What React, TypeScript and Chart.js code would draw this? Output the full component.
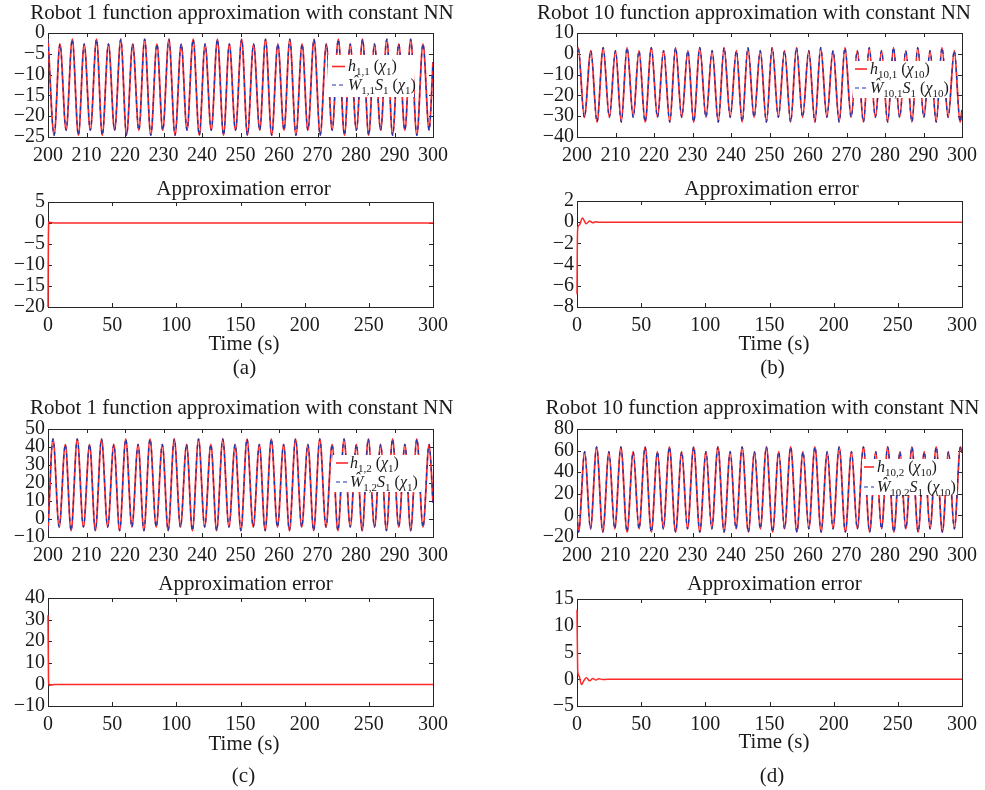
import React, { useEffect, useRef } from "react";
import { Chart, registerables } from "chart.js";

Chart.register(...registerables);

// ---------------- data ----------------
const X_TICKS_ZOOM = [200, 210, 220, 230, 240, 250, 260, 270, 280, 290, 300];
const X_TICKS_FULL = [0, 50, 100, 150, 200, 250, 300];

const Y_TICKS_A_TOP = [-25, -20, -15, -10, -5, 0];
const Y_TICKS_A_ERR = [-20, -15, -10, -5, 0, 5];
const Y_TICKS_B_TOP = [-40, -30, -20, -10, 0, 10];
const Y_TICKS_B_ERR = [-8, -6, -4, -2, 0, 2];
const Y_TICKS_C_TOP = [-10, 0, 10, 20, 30, 40, 50];
const Y_TICKS_C_ERR = [-10, 0, 10, 20, 30, 40];
const Y_TICKS_D_TOP = [-20, 0, 20, 40, 60, 80];
const Y_TICKS_D_ERR = [-5, 0, 5, 10, 15];

// Robot 1, output 1 (extrema of the oscillation, 200-300 s)
const T_A = [
  200.0, 201.6, 203.1, 204.7, 206.3, 207.9, 209.4, 211.0, 212.6, 214.1, 215.7, 217.3,
  218.9, 220.4, 222.0, 223.6, 225.1, 226.7, 228.3, 229.8, 231.4, 233.0, 234.6, 236.1,
  237.7, 239.3, 240.8, 242.4, 244.0, 245.6, 247.1, 248.7, 250.3, 251.8, 253.4, 255.0,
  256.5, 258.1, 259.7, 261.3, 262.8, 264.4, 266.0, 267.5, 269.1, 270.7, 272.3, 273.8,
  275.4, 277.0, 278.5, 280.1, 281.7, 283.3, 284.8, 286.4, 288.0, 289.5, 291.1, 292.7,
  294.2, 295.8, 297.4, 299.0, 300.0,
];
const H_1_1 = [
  -1.5, -24.6, -2.6, -23.4, -1.5, -24.6, -2.6, -23.4, -1.5, -24.6, -2.6, -23.4,
  -1.5, -24.6, -2.6, -23.4, -1.5, -24.6, -2.6, -23.4, -1.5, -24.6, -2.6, -23.4,
  -1.5, -24.6, -2.6, -23.4, -1.5, -24.6, -2.6, -23.4, -1.5, -24.6, -2.6, -23.4,
  -1.5, -24.6, -2.6, -23.4, -1.5, -24.6, -2.6, -23.4, -1.5, -24.6, -2.6, -23.4,
  -1.5, -24.6, -2.6, -23.4, -1.5, -24.6, -2.6, -23.4, -1.5, -24.6, -2.6, -23.4,
  -1.5, -24.6, -2.6, -23.4, -7.0,
];
const WS_1_1 = H_1_1;

// Robot 10, output 1
const T_B = [
  200.0, 200.3, 201.9, 203.6, 205.2, 206.8, 208.4, 210.0, 211.5, 213.0, 214.6, 216.1,
  217.7, 219.3, 220.9, 222.5, 224.1, 225.6, 227.2, 228.8, 230.3, 231.9, 233.5, 235.1,
  236.7, 238.2, 239.8, 241.4, 242.9, 244.4, 246.0, 247.6, 249.2, 250.7, 252.3, 253.9,
  255.5, 257.0, 258.6, 260.2, 261.8, 263.3, 264.9, 266.5, 268.1, 269.6, 271.2, 272.8,
  274.4, 275.9, 277.5, 279.1, 280.7, 282.2, 283.8, 285.4, 287.0, 288.5, 290.1, 291.7,
  293.3, 294.8, 296.4, 298.0, 299.5, 300.0,
];
const H_10_1 = [
  0.0,
  3.0, -30.5, 1.5, -32.8, 3.0, -30.5, 1.5, -32.8, 3.0, -30.5, 1.5, -32.8,
  3.0, -30.5, 1.5, -32.8, 3.0, -30.5, 1.5, -32.8, 3.0, -30.5, 1.5, -32.8,
  3.0, -30.5, 1.5, -32.8, 3.0, -30.5, 1.5, -32.8, 3.0, -30.5, 1.5, -32.8,
  3.0, -30.5, 1.5, -32.8, 3.0, -30.5, 1.5, -32.8, 3.0, -30.5, 1.5, -32.8,
  3.0, -30.5, 1.5, -32.8, 3.0, -30.5, 1.5, -32.8, 3.0, -30.5, 1.5, -32.8,
  3.0, -30.5, 1.5, -32.8,
  -27.0,
];
const WS_10_1 = H_10_1;

// Robot 1, output 2
const T_C = [
  200.0, 201.3, 202.9, 204.5, 206.0, 207.6, 209.2, 210.8, 212.3, 213.9, 215.5, 217.1,
  218.6, 220.2, 221.8, 223.4, 224.9, 226.5, 228.1, 229.7, 231.2, 232.8, 234.4, 236.0,
  237.5, 239.1, 240.7, 242.3, 243.8, 245.4, 247.0, 248.6, 250.1, 251.7, 253.3, 254.9,
  256.4, 258.0, 259.6, 261.2, 262.7, 264.3, 265.9, 267.5, 269.0, 270.6, 272.2, 273.8,
  275.3, 276.9, 278.5, 280.1, 281.6, 283.2, 284.8, 286.4, 287.9, 289.5, 291.1, 292.7,
  294.2, 295.8, 297.4, 299.0, 300.0,
];
const H_1_2 = [
  -6.0,
  44.5, -4.5, 41.5, -6.5, 44.5, -4.5, 41.5, -6.5, 44.5, -4.5, 41.5, -6.5,
  44.5, -4.5, 41.5, -6.5, 44.5, -4.5, 41.5, -6.5, 44.5, -4.5, 41.5, -6.5,
  44.5, -4.5, 41.5, -6.5, 44.5, -4.5, 41.5, -6.5, 44.5, -4.5, 41.5, -6.5,
  44.5, -4.5, 41.5, -6.5, 44.5, -4.5, 41.5, -6.5, 44.5, -4.5, 41.5, -6.5,
  44.5, -4.5, 41.5, -6.5, 44.5, -4.5, 41.5, -6.5, 44.5, -4.5, 41.5, -6.5,
  44.5, -4.5, 41.5,
  9.0,
];
const WS_1_2 = H_1_2;

// Robot 10, output 2
const T_D = [
  200.0, 200.4, 202.0, 203.5, 205.1, 206.7, 208.3, 209.8, 211.4, 213.0, 214.6, 216.1,
  217.7, 219.3, 220.9, 222.4, 224.0, 225.6, 227.2, 228.7, 230.3, 231.9, 233.5, 235.0,
  236.6, 238.2, 239.8, 241.3, 242.9, 244.5, 246.1, 247.6, 249.2, 250.8, 252.4, 253.9,
  255.5, 257.1, 258.7, 260.2, 261.8, 263.4, 265.0, 266.5, 268.1, 269.7, 271.3, 272.8,
  274.4, 276.0, 277.6, 279.1, 280.7, 282.3, 283.9, 285.4, 287.0, 288.6, 290.2, 291.7,
  293.3, 294.9, 296.5, 298.0, 299.6, 300.0,
];
const H_10_2 = [
  1.0,
  -15.5, 59.0, -12.5, 63.5, -15.5, 59.0, -12.5, 63.5, -15.5, 59.0, -12.5, 63.5,
  -15.5, 59.0, -12.5, 63.5, -15.5, 59.0, -12.5, 63.5, -15.5, 59.0, -12.5, 63.5,
  -15.5, 59.0, -12.5, 63.5, -15.5, 59.0, -12.5, 63.5, -15.5, 59.0, -12.5, 63.5,
  -15.5, 59.0, -12.5, 63.5, -15.5, 59.0, -12.5, 63.5, -15.5, 59.0, -12.5, 63.5,
  -15.5, 59.0, -12.5, 63.5, -15.5, 59.0, -12.5, 63.5, -15.5, 59.0, -12.5, 63.5,
  -15.5, 59.0, -12.5, 63.5,
  58.0,
];
const WS_10_2 = H_10_2;

// Approximation errors (0-300 s)
const ERR_A_T = [0, 0.3, 0.7, 1.2, 2.5, 5, 10, 300];
const ERR_A_V = [-20, -3, 0.3, 0.2, 0.1, 0.02, 0, 0];
const ERR_B_T = [0, 0.3, 0.8, 2.0, 4.2, 7.2, 9.8, 12.3, 14.7, 17, 22, 300];
const ERR_B_V = [-6.8, -1.5, -0.4, -0.25, 0.4, -0.15, 0.12, -0.06, 0.05, 0, 0, 0];
const ERR_C_T = [0, 0.4, 0.9, 2.0, 5, 300];
const ERR_C_V = [32, 2, -0.5, -0.3, 0, 0];
const ERR_D_T = [0, 0.5, 1.0, 1.8, 3.5, 5.5, 7.3, 9.8, 12.3, 14.7, 17, 20, 24, 300];
const ERR_D_V = [13, 2, 0.9, 0.5, -1.0, -0.2, 0.3, -0.3, 0.15, -0.15, 0.1, -0.05, 0, 0];

// ---------------- styling / layout ----------------
const W = 985;
const H = 790;
const FONT = '"Liberation Serif", "Times New Roman", Times, serif';
const TEXT = "#1a1a1a";
const AXIS = "#262626";
const RED = "rgb(255,40,40)";
const BLUE = "rgb(25,55,175)";
const YW = 50; // fixed y-axis box width
const XH = 32; // fixed x-axis box height

type Series = { t: number[]; v: number[]; color: string; width: number; dash?: number[]; clip?: number };
type Legend = {
  box: [number, number, number, number];
  sx: [number, number];
  tx: number;
  rows: [number, number];
  hSub: string;
  chiSub: string;
};
type Label = { text: string; x: number; y: number; size: number };
type Panel = {
  plot: [number, number, number, number];
  xr: [number, number];
  xt: number[];
  yr: [number, number];
  yt: number[];
  series: Series[];
  labels: Label[];
  legend?: Legend;
};

const TITLE1 = "Robot 1 function approximation with constant NN";
const TITLE10 = "Robot 10 function approximation with constant NN";
const ERRT = "Approximation error";

// Chart.js draws dataset 0 on top, so the dashed estimate comes first.
const topSeries = (t: number[], h: number[], w: number[]): Series[] => [
  { t, v: w, color: BLUE, width: 1.3, dash: [4, 4] },
  { t, v: h, color: RED, width: 1.8 },
];
const errSeries = (t: number[], v: number[]): Series[] => [
  { t, v, color: RED, width: 1.5, clip: 2 },
];

const PANELS: Panel[] = [
  {
    plot: [48, 33, 433, 137], xr: [200, 300], xt: X_TICKS_ZOOM, yr: [-25, 0], yt: Y_TICKS_A_TOP,
    series: topSeries(T_A, H_1_1, WS_1_1),
    labels: [{ text: TITLE1, x: 242, y: 19, size: 21 }],
    legend: { box: [328, 55, 414, 97], sx: [332, 345], tx: 348, rows: [66.5, 85], hSub: "1,1", chiSub: "1" },
  },
  {
    plot: [48, 202, 433, 307], xr: [0, 300], xt: X_TICKS_FULL, yr: [-20, 5], yt: Y_TICKS_A_ERR,
    series: errSeries(ERR_A_T, ERR_A_V),
    labels: [
      { text: ERRT, x: 243.5, y: 195, size: 21 },
      { text: "Time (s)", x: 244, y: 350, size: 21 },
      { text: "(a)", x: 244.5, y: 374, size: 21 },
    ],
  },
  {
    plot: [577, 33, 962, 137], xr: [200, 300], xt: X_TICKS_ZOOM, yr: [-40, 10], yt: Y_TICKS_B_TOP,
    series: topSeries(T_B, H_10_1, WS_10_1),
    labels: [{ text: TITLE10, x: 754, y: 19, size: 21 }],
    legend: { box: [853, 61, 948, 98], sx: [855, 867], tx: 870, rows: [69, 88], hSub: "10,1", chiSub: "10" },
  },
  {
    plot: [577, 201, 962, 307], xr: [0, 300], xt: X_TICKS_FULL, yr: [-8, 2], yt: Y_TICKS_B_ERR,
    series: errSeries(ERR_B_T, ERR_B_V),
    labels: [
      { text: ERRT, x: 771.5, y: 195, size: 21 },
      { text: "Time (s)", x: 774, y: 350, size: 21 },
      { text: "(b)", x: 772.5, y: 374, size: 21 },
    ],
  },
  {
    plot: [48, 429, 433, 537], xr: [200, 300], xt: X_TICKS_ZOOM, yr: [-10, 50], yt: Y_TICKS_C_TOP,
    series: topSeries(T_C, H_1_2, WS_1_2),
    labels: [{ text: TITLE1, x: 241.7, y: 414, size: 21 }],
    legend: { box: [333, 455, 421, 492], sx: [336, 348], tx: 350, rows: [463, 482], hSub: "1,2", chiSub: "1" },
  },
  {
    plot: [48, 598, 433, 706], xr: [0, 300], xt: X_TICKS_FULL, yr: [-10, 40], yt: Y_TICKS_C_ERR,
    series: errSeries(ERR_C_T, ERR_C_V),
    labels: [
      { text: ERRT, x: 245.5, y: 590, size: 21 },
      { text: "Time (s)", x: 244, y: 750, size: 21 },
      { text: "(c)", x: 243.5, y: 782, size: 21 },
    ],
  },
  {
    plot: [577, 429, 962, 537], xr: [200, 300], xt: X_TICKS_ZOOM, yr: [-20, 80], yt: Y_TICKS_D_TOP,
    series: topSeries(T_D, H_10_2, WS_10_2),
    labels: [{ text: TITLE10, x: 762.5, y: 414, size: 21 }],
    legend: { box: [862, 459, 957, 495], sx: [864, 874], tx: 877, rows: [467, 487], hSub: "10,2", chiSub: "10" },
  },
  {
    plot: [577, 599, 962, 706], xr: [0, 300], xt: X_TICKS_FULL, yr: [-5, 15], yt: Y_TICKS_D_ERR,
    series: errSeries(ERR_D_T, ERR_D_V),
    labels: [
      { text: ERRT, x: 774.5, y: 590, size: 21 },
      { text: "Time (s)", x: 774, y: 748, size: 21 },
      { text: "(d)", x: 772, y: 782, size: 21 },
    ],
  },
];

// ---------------- drawing helpers ----------------
type Run = { t: string; it?: boolean; sub?: boolean };

function drawRuns(ctx: CanvasRenderingContext2D, x: number, y: number, runs: Run[]) {
  const size = 16;
  const subSize = 11;
  let cx = x;
  for (const r of runs) {
    const sz = r.sub ? subSize : size;
    ctx.font = `${r.it ? "italic " : ""}${sz}px ${FONT}`;
    ctx.fillText(r.t, cx, r.sub ? y + 4 : y);
    cx += ctx.measureText(r.t).width;
  }
}

const fmt = (v: number | string) => String(v).replace("-", "\u2212");

function decorPlugin(p: Panel) {
  return {
    id: "decor",
    beforeDatasetsDraw(chart: any) {
      const ctx: CanvasRenderingContext2D = chart.ctx;
      const a = chart.chartArea;
      const xs = chart.scales.x;
      const ys = chart.scales.y;
      ctx.save();
      ctx.strokeStyle = AXIS;
      ctx.lineWidth = 1;
      ctx.strokeRect(Math.round(a.left) + 0.5, Math.round(a.top) + 0.5, Math.round(a.right - a.left), Math.round(a.bottom - a.top));
      const tl = 4;
      ctx.beginPath();
      for (const v of p.xt) {
        const px = Math.round(xs.getPixelForValue(v)) + 0.5;
        ctx.moveTo(px, a.bottom);
        ctx.lineTo(px, a.bottom - tl);
        ctx.moveTo(px, a.top);
        ctx.lineTo(px, a.top + tl);
      }
      for (const v of p.yt) {
        const py = Math.round(ys.getPixelForValue(v)) + 0.5;
        ctx.moveTo(a.left, py);
        ctx.lineTo(a.left + tl, py);
        ctx.moveTo(a.right, py);
        ctx.lineTo(a.right - tl, py);
      }
      ctx.stroke();
      ctx.restore();
    },
    afterDatasetsDraw(chart: any) {
      const lg = p.legend;
      if (!lg) return;
      const ctx: CanvasRenderingContext2D = chart.ctx;
      ctx.save();
      ctx.fillStyle = "#ffffff";
      ctx.fillRect(lg.box[0], lg.box[1], lg.box[2] - lg.box[0], lg.box[3] - lg.box[1]);
      ctx.lineWidth = 1.6;
      ctx.strokeStyle = RED;
      ctx.setLineDash([]);
      ctx.beginPath();
      ctx.moveTo(lg.sx[0], lg.rows[0]);
      ctx.lineTo(lg.sx[1], lg.rows[0]);
      ctx.stroke();
      ctx.lineWidth = 1.2;
      ctx.strokeStyle = BLUE;
      ctx.setLineDash([4, 3]);
      ctx.beginPath();
      ctx.moveTo(lg.sx[0], lg.rows[1]);
      ctx.lineTo(lg.sx[1], lg.rows[1]);
      ctx.stroke();
      ctx.setLineDash([]);
      ctx.fillStyle = TEXT;
      ctx.textBaseline = "alphabetic";
      ctx.textAlign = "left";
      drawRuns(ctx, lg.tx, lg.rows[0] + 4.5, [
        { t: "h", it: true }, { t: lg.hSub, sub: true }, { t: " (" }, { t: "\u03c7", it: true },
        { t: lg.chiSub, sub: true }, { t: ")" },
      ]);
      drawRuns(ctx, lg.tx, lg.rows[1] + 4.5, [
        { t: "\u0174", it: true }, { t: lg.hSub, sub: true }, { t: "S", it: true }, { t: "1", sub: true },
        { t: " (" }, { t: "\u03c7", it: true }, { t: lg.chiSub, sub: true }, { t: ")" },
      ]);
      ctx.restore();
    },
    afterDraw(chart: any) {
      const ctx: CanvasRenderingContext2D = chart.ctx;
      ctx.save();
      ctx.fillStyle = TEXT;
      ctx.textAlign = "center";
      ctx.textBaseline = "alphabetic";
      for (const l of p.labels) {
        ctx.font = `${l.size}px ${FONT}`;
        ctx.fillText(l.text, l.x, l.y);
      }
      ctx.restore();
    },
  };
}

function makeConfig(p: Panel): any {
  const datasets = p.series.map((s) => ({
    data: s.t.map((t, i) => ({ x: t, y: s.v[i] })),
    borderColor: s.color,
    borderWidth: s.width,
    borderDash: s.dash || [],
    pointRadius: 0,
    fill: false,
    cubicInterpolationMode: "monotone",
    ...(s.clip !== undefined ? { clip: s.clip } : {}),
  }));
  const tickFont = { family: FONT, size: 20 };
  return {
    type: "line",
    data: { datasets },
    options: {
      responsive: false,
      maintainAspectRatio: false,
      animation: false,
      events: [],
      layout: {
        padding: {
          left: p.plot[0] - YW,
          top: p.plot[1],
          right: W - p.plot[2],
          bottom: H - p.plot[3] - XH,
        },
      },
      plugins: { legend: { display: false }, title: { display: false }, tooltip: { enabled: false } },
      scales: {
        x: {
          type: "linear",
          min: p.xr[0],
          max: p.xr[1],
          afterBuildTicks: (s: any) => { s.ticks = p.xt.map((v) => ({ value: v })); },
          afterFit: (s: any) => { s.height = XH; },
          grid: { display: false, drawTicks: false },
          border: { display: false },
          ticks: { font: tickFont, color: TEXT, padding: 7, maxRotation: 0, autoSkip: false, callback: fmt },
        },
        y: {
          type: "linear",
          min: p.yr[0],
          max: p.yr[1],
          afterBuildTicks: (s: any) => { s.ticks = p.yt.map((v) => ({ value: v })); },
          afterFit: (s: any) => { s.width = YW; },
          grid: { display: false, drawTicks: false },
          border: { display: false },
          ticks: { font: tickFont, color: TEXT, padding: 3, autoSkip: false, callback: fmt },
        },
      },
    },
    plugins: [decorPlugin(p)],
  };
}

export default function App() {
  const refs = useRef<(HTMLCanvasElement | null)[]>([]);
  useEffect(() => {
    const charts = PANELS.map((p, i) => new Chart(refs.current[i] as HTMLCanvasElement, makeConfig(p)));
    return () => charts.forEach((c) => c.destroy());
  }, []);
  return (
    <div style={{ position: "absolute", left: 0, top: 0, width: W, height: H, background: "#ffffff" }}>
      {PANELS.map((_, i) => (
        <canvas
          key={i}
          ref={(el) => { refs.current[i] = el; }}
          width={W}
          height={H}
          style={{ position: "absolute", left: 0, top: 0, width: W, height: H }}
        />
      ))}
    </div>
  );
}
